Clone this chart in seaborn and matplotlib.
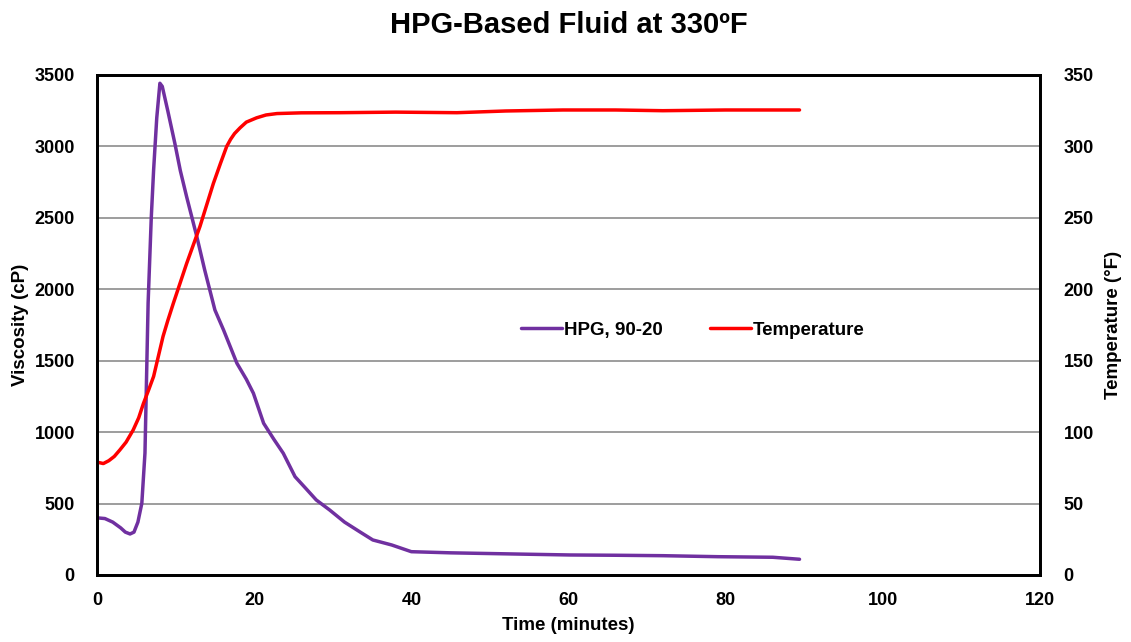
import matplotlib
matplotlib.use("Agg")
import matplotlib.pyplot as plt
import seaborn as sns
import pandas as pd

# Viscosity (cP) vs time (minutes)
visc_time = [0, 1, 2, 3, 3.6, 4.2, 4.7, 5.2, 5.7, 6.1, 6.5, 6.9, 7.2, 7.6, 8.0, 8.3, 9.0, 9.9, 10.6, 11.4, 12.7,
             13.7, 15.0, 16.1, 17.8, 19.0, 19.9, 21.2, 22.5, 23.7, 25.2, 26.5, 27.9, 29.6, 31.5, 33.5, 35.1, 37.5,
             40, 45, 50, 55, 60.2, 66, 72, 79, 86, 89.4]
visc_vals = [400, 395, 370, 330, 300, 287, 300, 370, 502, 854, 1904, 2500, 2835, 3200, 3442, 3420, 3250, 3022, 2830,
             2648, 2368, 2135, 1855, 1715, 1482, 1370, 1272, 1062, 950, 852, 688, 610, 525, 455, 370, 300, 245, 210,
             163, 155, 150, 145, 140, 138, 135, 128, 124, 110]

# Temperature (°F) vs time (minutes)
temp_time = [0, 0.8, 1.5, 2.2, 2.9, 3.7, 4.6, 5.3, 5.9, 6.6, 7.2, 7.8, 8.4, 9.0, 9.7, 11.4, 13.1, 14.8, 15.7,
             16.5, 17.0, 17.5, 18.2, 19.0, 20.3, 21.5, 22.9, 26, 30.9, 38, 45.8, 52, 59.3, 66, 72, 80, 89.4]
temp_vals = [79, 78, 80, 83, 87.5, 93, 101.5, 110, 120, 130, 139, 153, 167, 178, 190, 218, 244, 274, 288,
             300, 305, 309, 313, 317, 320, 322, 323, 323.5, 323.6, 324, 323.6, 324.8, 325.5, 325.5, 325, 325.5, 325.5]

title = "HPG-Based Fluid at 330ºF"
xlabel = "Time (minutes)"
ylabel_left = "Viscosity (cP)"
ylabel_right = "Temperature (°F)"
series_names = ["HPG, 90-20", "Temperature"]

sns.set_style("white")
plt.rcParams["font.family"] = ["Liberation Sans", "DejaVu Sans"]
plt.rcParams["font.weight"] = "bold"
plt.rcParams["text.color"] = "black"
plt.rcParams["axes.labelcolor"] = "black"
plt.rcParams["xtick.color"] = "black"
plt.rcParams["ytick.color"] = "black"

fig = plt.figure(figsize=(11.31, 6.42), dpi=100)
ax = fig.add_axes([0.0858, 0.1044, 0.8337, 0.7788])
ax2 = ax.twinx()

dv = pd.DataFrame({"t": visc_time, "v": visc_vals})
dt = pd.DataFrame({"t": temp_time, "T": temp_vals})

sns.lineplot(data=dv, x="t", y="v", ax=ax, color="#7030A0", linewidth=2.5, label=series_names[0], legend=False)
sns.lineplot(data=dt, x="t", y="T", ax=ax2, color="#FF0000", linewidth=2.5, label=series_names[1], legend=False)
for a in (ax, ax2):
    for ln in a.get_lines():
        ln.set_solid_joinstyle("round")
        ln.set_solid_capstyle("round")

ax.set_xlim(0, 120)
ax.set_ylim(0, 3500)
ax2.set_ylim(0, 350)
ax.set_xticks(range(0, 121, 20))
ax.set_yticks(range(0, 3501, 500))
ax2.set_yticks(range(0, 351, 50))

ax.grid(axis="y", color="#8c8c8c", linewidth=1.2)
ax.grid(axis="x", visible=False)
ax.set_axisbelow(True)

for a in (ax, ax2):
    for s in a.spines.values():
        s.set_color("black")
        s.set_linewidth(2)
    a.tick_params(labelsize=13, length=0, labelcolor="black")
    for lbl in a.get_xticklabels() + a.get_yticklabels():
        lbl.set_fontweight("bold")
ax.tick_params(axis="x", direction="in", length=5, width=1, color="#8c8c8c", pad=12)
ax.tick_params(axis="y", pad=16)
ax2.tick_params(axis="y", pad=17)

ax.set_xlabel(xlabel, fontsize=13.5, fontweight="bold", labelpad=6)
ax.set_ylabel(ylabel_left, fontsize=13.5, fontweight="bold", labelpad=4)
ax2.set_ylabel(ylabel_right, fontsize=13.5, fontweight="bold", labelpad=8)
ax.set_title(title, fontsize=21, fontweight="bold", pad=30, color="black")

h1, l1 = ax.get_legend_handles_labels()
h2, l2 = ax2.get_legend_handles_labels()
leg = ax2.legend(h1 + h2, l1 + l2, loc="center", bbox_to_anchor=(0.632, 0.49), ncol=2, frameon=False,
                 fontsize=13.5, handlelength=2.2, handletextpad=0.1, columnspacing=2.5)
for t in leg.get_texts():
    t.set_fontweight("bold")
    t.set_color("black")

fig.savefig("out.png", dpi=100, facecolor="white")
